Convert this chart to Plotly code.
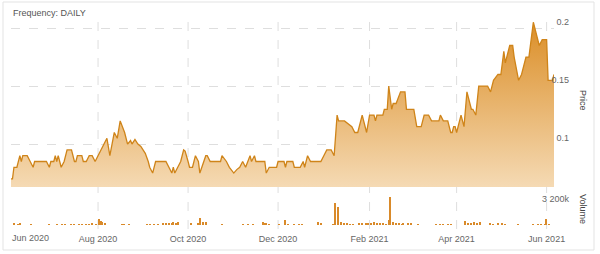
import plotly.graph_objects as go

# ---------------- data ----------------
price_dates = [
    "2020-06-03", "2020-06-04", "2020-06-05", "2020-06-07", "2020-06-09", "2020-06-10", "2020-06-11",
    "2020-06-14", "2020-06-16", "2020-06-18", "2020-06-19", "2020-06-27", "2020-06-29", "2020-06-30",
    "2020-07-02", "2020-07-03", "2020-07-04", "2020-07-05", "2020-07-07", "2020-07-09", "2020-07-11",
    "2020-07-14", "2020-07-16", "2020-07-17", "2020-07-18", "2020-07-21", "2020-07-22", "2020-07-24",
    "2020-07-26", "2020-07-28", "2020-07-30", "2020-08-01", "2020-08-05", "2020-08-07", "2020-08-09",
    "2020-08-11", "2020-08-12", "2020-08-14", "2020-08-16", "2020-08-19", "2020-08-21", "2020-08-23",
    "2020-08-24", "2020-08-26", "2020-08-28", "2020-08-30", "2020-09-02", "2020-09-04", "2020-09-05",
    "2020-09-07", "2020-09-09", "2020-09-16", "2020-09-18", "2020-09-20", "2020-09-21", "2020-09-22",
    "2020-09-24", "2020-09-26", "2020-09-28", "2020-09-29", "2020-10-01", "2020-10-02", "2020-10-04",
    "2020-10-06", "2020-10-08", "2020-10-09", "2020-10-13", "2020-10-14", "2020-10-16", "2020-10-23",
    "2020-10-24", "2020-10-27", "2020-10-29", "2020-11-01", "2020-11-03", "2020-11-05", "2020-11-07",
    "2020-11-09", "2020-11-12", "2020-11-13", "2020-11-15", "2020-11-16", "2020-11-22", "2020-11-23",
    "2020-11-25", "2020-11-30", "2020-12-01", "2020-12-05", "2020-12-06", "2020-12-07", "2020-12-11",
    "2020-12-12", "2020-12-16", "2020-12-18", "2020-12-19", "2020-12-21", "2020-12-23", "2020-12-30",
    "2021-01-01", "2021-01-03", "2021-01-06", "2021-01-08", "2021-01-10", "2021-01-11", "2021-01-15",
    "2021-01-17", "2021-01-20", "2021-01-22", "2021-01-24", "2021-01-27", "2021-01-30", "2021-02-01",
    "2021-02-04", "2021-02-05", "2021-02-06", "2021-02-10", "2021-02-11", "2021-02-13", "2021-02-14",
    "2021-02-16", "2021-02-17", "2021-02-19", "2021-02-22", "2021-02-25", "2021-02-26", "2021-03-03",
    "2021-03-05", "2021-03-08", "2021-03-10", "2021-03-13", "2021-03-15", "2021-03-20", "2021-03-21",
    "2021-03-23", "2021-03-26", "2021-03-28", "2021-03-29", "2021-03-30", "2021-03-31", "2021-04-01",
    "2021-04-04", "2021-04-06", "2021-04-08", "2021-04-11", "2021-04-12", "2021-04-14", "2021-04-16",
    "2021-04-22", "2021-04-24", "2021-04-26", "2021-04-29", "2021-05-01", "2021-05-03", "2021-05-04",
    "2021-05-07", "2021-05-09", "2021-05-10", "2021-05-13", "2021-05-15", "2021-05-18", "2021-05-20",
    "2021-05-23", "2021-05-27", "2021-05-29", "2021-06-01", "2021-06-02", "2021-06-05", "2021-06-06",
]
price_vals = [
    0.070, 0.070, 0.080, 0.080, 0.090, 0.085, 0.090,
    0.090, 0.085, 0.080, 0.085, 0.085, 0.080, 0.085,
    0.085, 0.090, 0.085, 0.090, 0.080, 0.085, 0.095,
    0.095, 0.085, 0.085, 0.090, 0.090, 0.085, 0.085,
    0.090, 0.090, 0.085, 0.090, 0.100, 0.105, 0.090,
    0.105, 0.110, 0.105, 0.120, 0.110, 0.100, 0.103,
    0.100, 0.104, 0.100, 0.098, 0.092, 0.085, 0.080,
    0.075, 0.085, 0.085, 0.080, 0.075, 0.080, 0.075,
    0.080, 0.085, 0.095, 0.094, 0.085, 0.080, 0.080,
    0.090, 0.085, 0.075, 0.090, 0.090, 0.085, 0.085,
    0.090, 0.085, 0.080, 0.075, 0.078, 0.080, 0.085,
    0.080, 0.090, 0.085, 0.090, 0.085, 0.085, 0.075,
    0.080, 0.080, 0.085, 0.085, 0.080, 0.085, 0.085,
    0.080, 0.080, 0.085, 0.080, 0.090, 0.085, 0.085,
    0.090, 0.095, 0.095, 0.090, 0.125, 0.120, 0.120,
    0.118, 0.115, 0.110, 0.110, 0.125, 0.110, 0.125,
    0.125, 0.120, 0.125, 0.125, 0.130, 0.130, 0.150,
    0.130, 0.135, 0.135, 0.145, 0.145, 0.130, 0.130,
    0.115, 0.115, 0.125, 0.125, 0.120, 0.120, 0.125,
    0.120, 0.120, 0.110, 0.110, 0.115, 0.115, 0.110,
    0.125, 0.115, 0.145, 0.130, 0.130, 0.125, 0.150,
    0.150, 0.145, 0.155, 0.160, 0.160, 0.180, 0.170,
    0.185, 0.185, 0.175, 0.155, 0.160, 0.175, 0.175,
    0.205, 0.185, 0.190, 0.190, 0.155, 0.155, 0.160,
]

vol_dates = [
    "2020-06-05", "2020-06-08", "2020-06-09", "2020-06-17", "2020-06-29", "2020-07-04", "2020-07-08",
    "2020-07-10", "2020-07-14", "2020-07-16", "2020-07-19", "2020-07-21", "2020-07-24", "2020-07-26",
    "2020-07-28", "2020-07-31", "2020-08-02", "2020-08-03", "2020-08-04", "2020-08-06", "2020-08-17",
    "2020-08-19", "2020-08-22", "2020-09-03", "2020-09-05", "2020-09-08", "2020-09-11", "2020-09-14",
    "2020-09-16", "2020-09-18", "2020-09-20", "2020-09-21", "2020-09-23", "2020-09-24", "2020-10-03",
    "2020-10-08", "2020-10-09", "2020-10-11", "2020-10-13", "2020-10-24", "2020-11-07", "2020-11-11",
    "2020-11-14", "2020-11-21", "2020-11-22", "2020-11-23", "2020-11-25", "2020-12-02", "2020-12-06",
    "2020-12-08", "2020-12-12", "2020-12-15", "2020-12-17", "2020-12-28", "2020-12-30", "2021-01-07",
    "2021-01-09", "2021-01-11", "2021-01-13", "2021-01-15", "2021-01-17", "2021-01-19", "2021-01-21",
    "2021-01-25", "2021-01-27", "2021-01-30", "2021-01-31", "2021-02-02", "2021-02-04", "2021-02-06",
    "2021-02-08", "2021-02-10", "2021-02-12", "2021-02-14", "2021-02-15", "2021-02-17", "2021-02-19",
    "2021-02-21", "2021-02-23", "2021-02-24", "2021-02-27", "2021-03-01", "2021-03-06", "2021-03-18",
    "2021-03-21", "2021-03-23", "2021-03-26", "2021-03-28", "2021-04-07", "2021-04-09", "2021-04-11",
    "2021-04-13", "2021-04-15", "2021-04-17", "2021-04-24", "2021-04-26", "2021-04-29", "2021-05-02",
    "2021-05-04", "2021-05-13", "2021-05-23", "2021-05-26", "2021-05-28", "2021-05-31", "2021-06-01",
    "2021-06-03",
]
vol_k = [
    150, 100, 150, 60, 80, 60, 80,
    100, 80, 100, 80, 100, 80, 100,
    120, 80, 600, 400, 300, 150, 60,
    60, 60, 60, 80, 60, 80, 150,
    200, 150, 200, 300, 250, 300, 200,
    150, 700, 300, 350, 80, 60, 80,
    60, 300, 200, 200, 100, 100, 500,
    100, 80, 60, 80, 300, 200, 80,
    2200, 1800, 300, 200, 200, 100, 100,
    150, 200, 150, 200, 200, 300, 150,
    250, 200, 100, 500, 2800, 300, 200,
    200, 100, 200, 200, 200, 80, 60,
    60, 60, 60, 60, 400, 250, 250,
    300, 250, 350, 150, 100, 150, 150,
    100, 80, 60, 80, 60, 100, 600,
    100,
]

x_tick_dates = ["2020-08-01", "2020-10-01", "2020-12-01", "2021-02-01", "2021-04-01", "2021-06-01"]
x_tick_text = ["Aug 2020", "Oct 2020", "Dec 2020", "Feb 2021", "Apr 2021", "Jun 2021"]
first_tick_text = "Jun 2020"
price_ticks = [0.1, 0.15, 0.2]
price_tick_text = ["0.1", "0.15", "0.2"]
vol_ticks = [3200]
vol_tick_text = ["3 200k"]

# ---------------- style ----------------
W, H = 600, 254
ML, MR, MT, MB = 11, 28, 13, 29
pw = W - ML - MR
ph = H - MT - MB
x_dom_end = (554 - ML) / pw
price_dom = [(225 - 187) / ph, 1.0]
vol_dom = [0.0, (225 - 193) / ph]
FONT = "Liberation Sans, Arial, sans-serif"
TXT = "#666666"
GRID = "#dedede"
LINE_C = "#cf8419"
PRICE_RANGE = [0.063, 0.213]

fig = go.Figure()
fig.add_trace(go.Scatter(
    x=price_dates, y=price_vals, mode="lines",
    line=dict(color=LINE_C, width=1.3),
    fill="tozeroy",
    fillgradient=dict(type="vertical",
                      colorscale=[[0, "#f5dab4"], [1, "#db8e27"]],
                      start=PRICE_RANGE[0], stop=max(price_vals)),
    xaxis="x2", yaxis="y", hoverinfo="skip", showlegend=False,
))
fig.add_trace(go.Bar(
    x=vol_dates, y=vol_k, marker=dict(color="#d98a2a", line=dict(width=0)),
    width=0.9 * 86400000, xaxis="x", yaxis="y2", showlegend=False,
))

shapes = []
for d in x_tick_dates:
    shapes.append(dict(type="line", xref="x", yref="paper", x0=d, x1=d,
                       y0=(225 - 229) / ph, y1=1.0,
                       line=dict(color=GRID, width=1, dash="dash"), layer="below"))
shapes.append(dict(type="rect", xref="paper", yref="paper",
                   x0=(3 - ML) / pw, x1=(594 - ML) / pw,
                   y0=(225 - 250) / ph, y1=(225 - 2) / ph,
                   line=dict(color="#e3e3e3", width=1), layer="below"))

fig.update_layout(
    width=W, height=H, margin=dict(l=ML, r=MR, t=MT, b=MB),
    paper_bgcolor="white", plot_bgcolor="white",
    font=dict(family=FONT, size=9, color=TXT),
    bargap=0,
    xaxis=dict(domain=[0, x_dom_end], anchor="y2", type="date",
               range=[price_dates[0], price_dates[-1]],
               tickvals=x_tick_dates, ticktext=x_tick_text,
               ticklabeloverflow="allow",
               showgrid=False, zeroline=False, showline=False,
               ticks="outside", ticklen=5, tickcolor="rgba(0,0,0,0)",
               tickfont=dict(size=9, color=TXT)),
    xaxis2=dict(domain=[0, x_dom_end], anchor="y", matches="x", type="date",
                showticklabels=False, showgrid=False, zeroline=False, showline=False),
    yaxis=dict(domain=price_dom, anchor="free", position=1.0, side="right",
               range=PRICE_RANGE, tickvals=price_ticks, ticktext=price_tick_text,
               ticklabelposition="inside top", ticklabeloverflow="allow",
               showgrid=True, gridcolor=GRID,
               griddash="dash", zeroline=False, showline=False,
               tickfont=dict(size=9, color=TXT)),
    yaxis2=dict(domain=vol_dom, anchor="free", position=1.0, side="right",
                range=[0, vol_ticks[0]], tickvals=vol_ticks, ticktext=vol_tick_text,
                ticklabelposition="inside bottom", ticklabeloverflow="allow",
                showgrid=True, gridcolor=GRID,
                griddash="dash", zeroline=False, showline=False,
                tickfont=dict(size=9, color=TXT)),
    shapes=shapes,
    annotations=[
        dict(text="Frequency: DAILY", xref="paper", yref="paper",
             x=0.0, y=(225 - 13) / ph, xanchor="left", yanchor="middle",
             showarrow=False, font=dict(size=9, color="#555555")),
        dict(text=first_tick_text, xref="paper", yref="paper",
             x=(30 - ML) / pw, y=(225 - 238) / ph, xanchor="center", yanchor="middle",
             showarrow=False, font=dict(size=9, color=TXT)),
        dict(text="Price", xref="paper", yref="paper", textangle=90,
             x=(583 - ML) / pw, y=(price_dom[0] + price_dom[1]) / 2,
             xanchor="center", yanchor="middle", showarrow=False,
             font=dict(size=9, color="#444444")),
        dict(text="Volume", xref="paper", yref="paper", textangle=90,
             x=(583 - ML) / pw, y=(vol_dom[0] + vol_dom[1]) / 2,
             xanchor="center", yanchor="middle", showarrow=False,
             font=dict(size=9, color="#444444")),
    ],
)

fig.write_html("out.html")
